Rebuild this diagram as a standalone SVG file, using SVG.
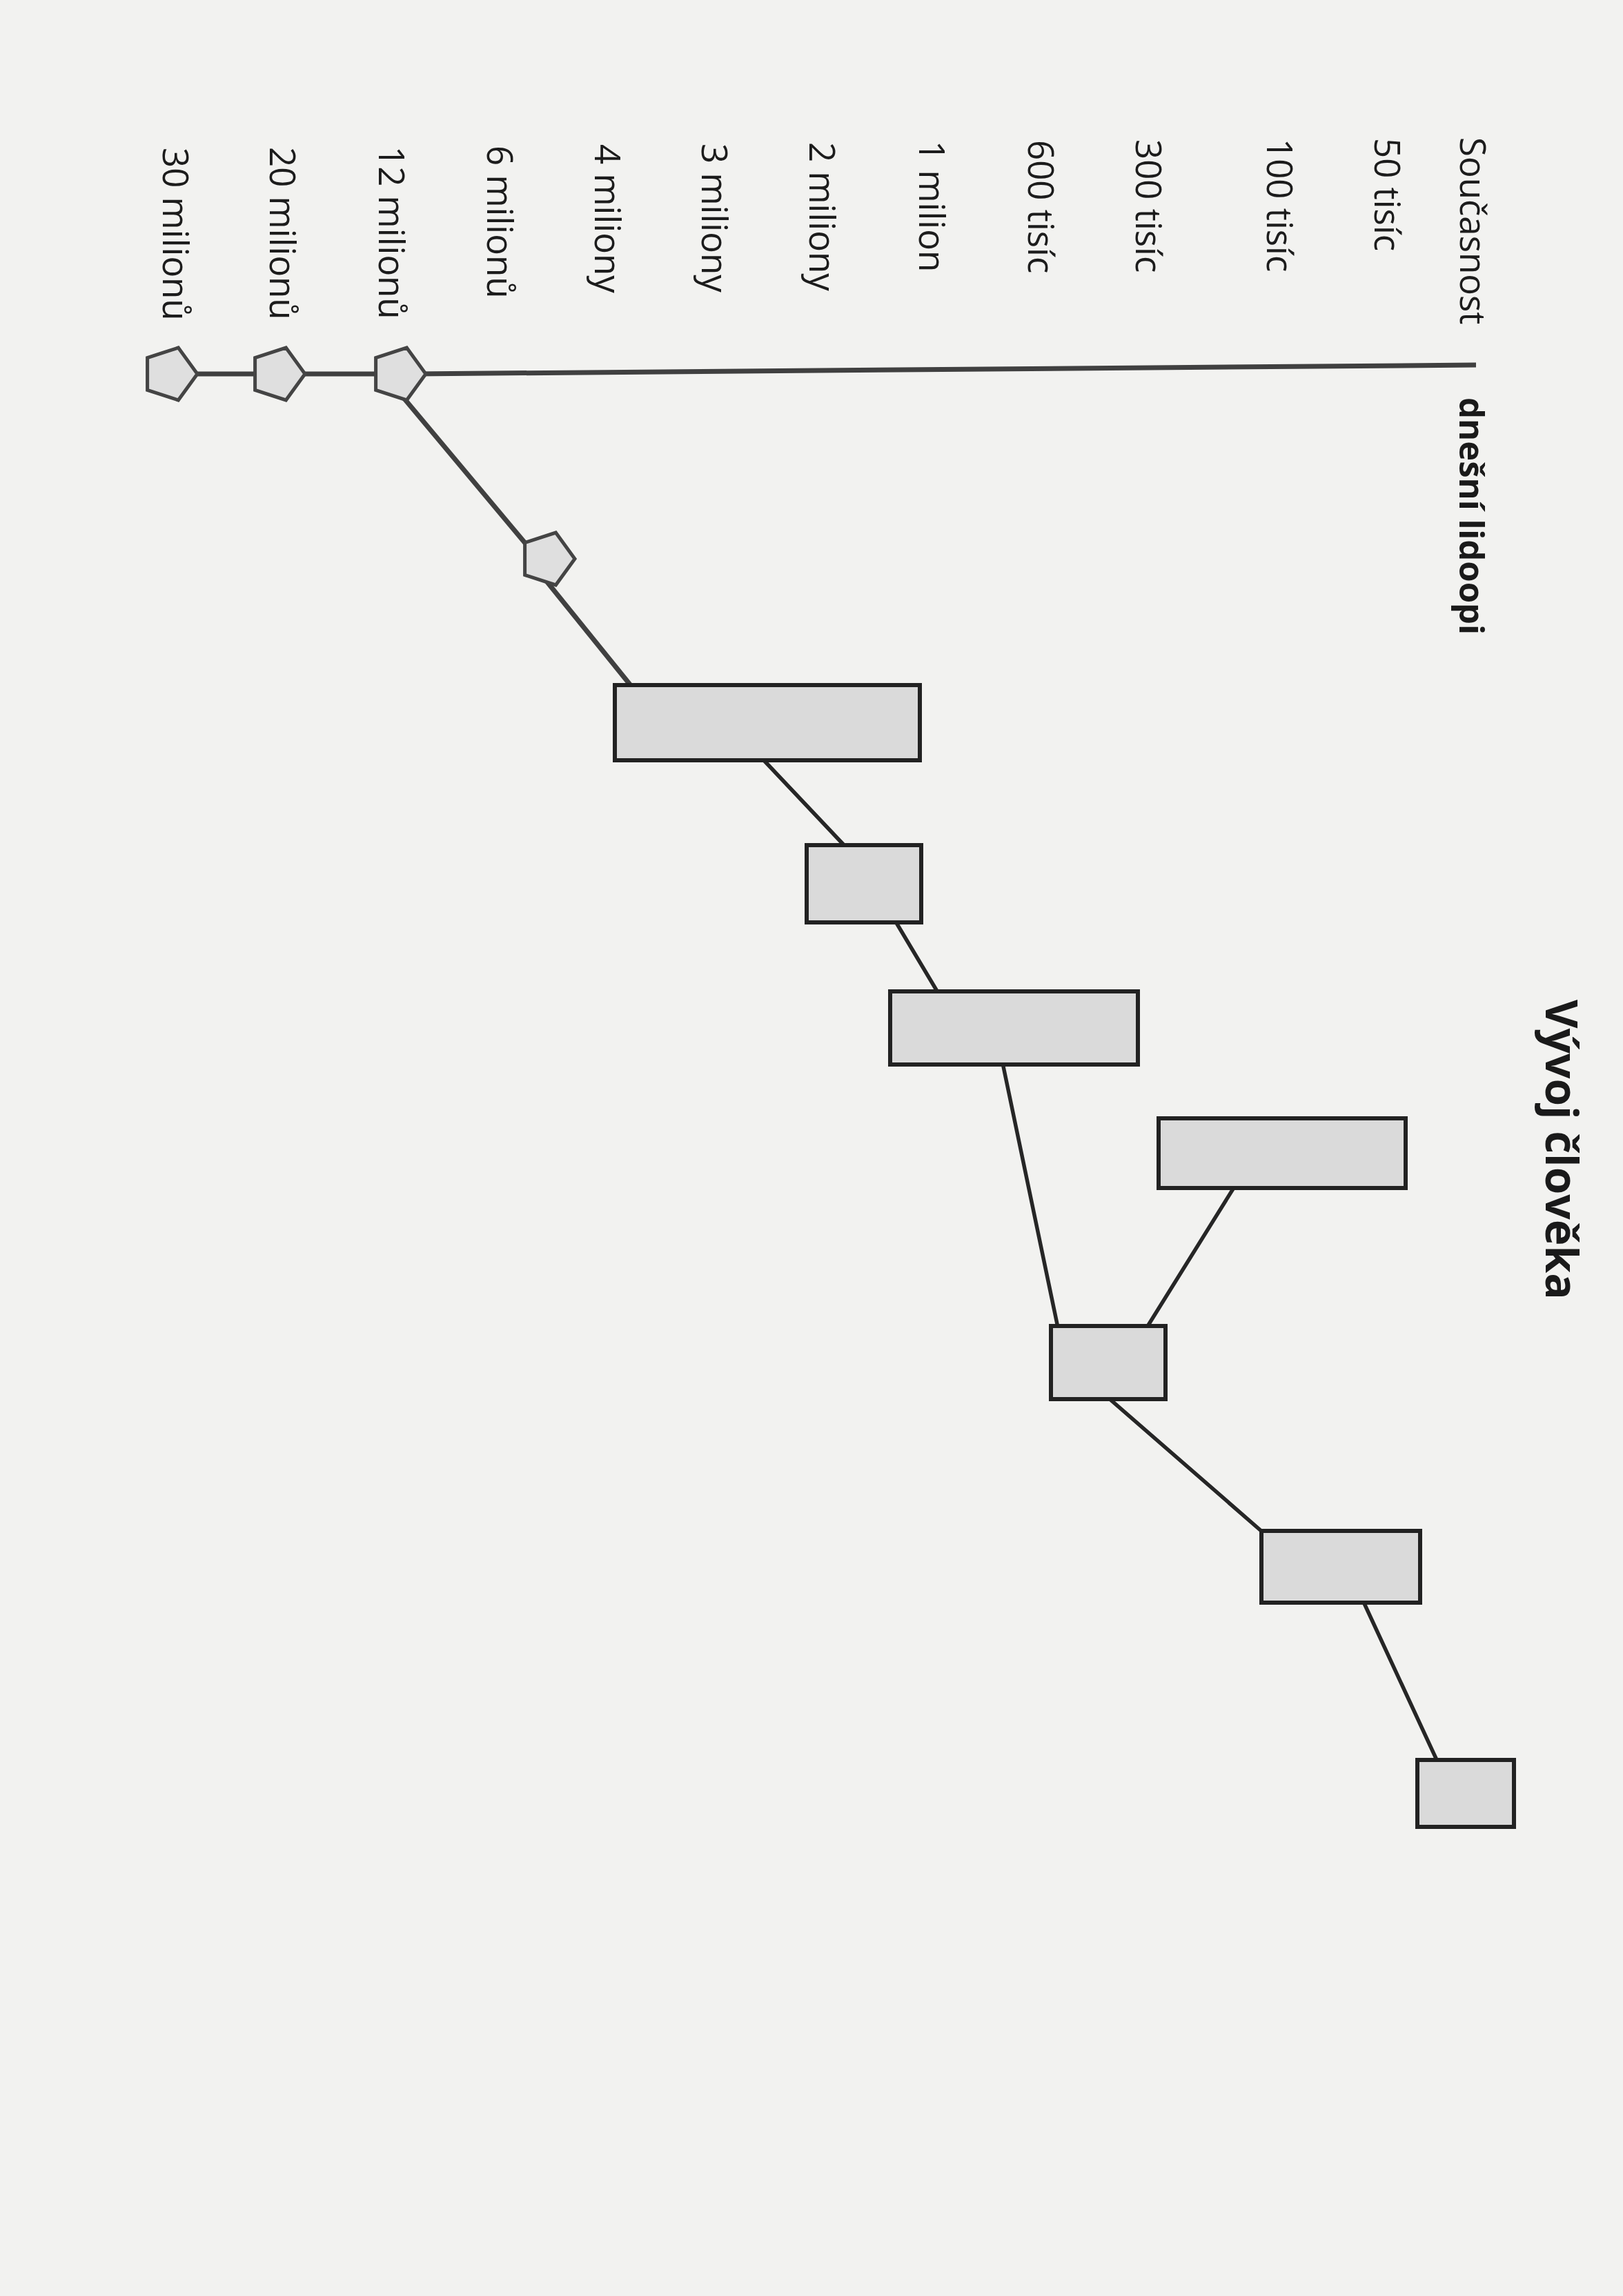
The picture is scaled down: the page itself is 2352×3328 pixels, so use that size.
<svg xmlns="http://www.w3.org/2000/svg" width="2352" height="3328" viewBox="0 0 2352 3328">
<style>
.lbl{font-family:"Open Sans","Liberation Sans",sans-serif;font-size:51px;fill:#1c1c1c}
.bold{font-family:"Open Sans","Liberation Sans",sans-serif;font-weight:700;fill:#1a1a1a}
.node{fill:#dadada;stroke:#222;stroke-width:6}
.pent{fill:#dfdfdf;stroke:#444;stroke-width:5}
.ln{stroke:#262626;stroke-width:5.5;fill:none;stroke-linecap:round}
.ln7{stroke:#404040;stroke-width:7;fill:none}
</style>
<defs>
<polygon id="pentShape" points="40,0 12.4,38 -32.4,23.5 -32.4,-23.5 12.4,-38"/>
</defs>
<rect x="0" y="0" width="2352" height="3328" fill="#f2f2f0"/>

<g id="title">
<text class="bold" font-size="64" transform="translate(2240,1449) rotate(90)">Vývoj člověka</text>
</g>

<g id="labels">
<text class="lbl" transform="translate(2116,199) rotate(90)">Současnost</text>
<text class="lbl" transform="translate(1992,200) rotate(90)">50 tisíc</text>
<text class="lbl" transform="translate(1836,201) rotate(90)">100 tisíc</text>
<text class="lbl" transform="translate(1646,202) rotate(90)">300 tisíc</text>
<text class="lbl" transform="translate(1490,203) rotate(90)">600 tisíc</text>
<text class="lbl" transform="translate(1332,204) rotate(90)">1 milion</text>
<text class="lbl" transform="translate(1173,206) rotate(90)">2 miliony</text>
<text class="lbl" transform="translate(1017,208) rotate(90)">3 miliony</text>
<text class="lbl" transform="translate(862,209) rotate(90)">4 miliony</text>
<text class="lbl" transform="translate(706,211) rotate(90)">6 milionů</text>
<text class="lbl" transform="translate(549,212) rotate(90)">12 milionů</text>
<text class="lbl" transform="translate(391,213) rotate(90)">20 milionů</text>
<text class="lbl" transform="translate(236,214) rotate(90)">30 milionů</text>
<text class="bold" font-size="49" transform="translate(2115,576) rotate(90)">dnešní lidoopi</text>
</g>

<g id="connectors">
<line class="ln7" x1="246" y1="542" x2="577" y2="542"/>
<line class="ln7" x1="600" y1="542" x2="2139" y2="529"/>
<line class="ln7" x1="586" y1="578" x2="765" y2="792"/>
<line class="ln7" x1="790" y1="840" x2="916" y2="996"/>
<line class="ln" x1="1105" y1="1100" x2="1225" y2="1227"/>
<line class="ln" x1="1298" y1="1336" x2="1360" y2="1440"/>
<line class="ln" x1="1453" y1="1541" x2="1533" y2="1924"/>
<line class="ln" x1="1789" y1="1720" x2="1662" y2="1924"/>
<line class="ln" x1="1606" y1="2026" x2="1830" y2="2221"/>
<line class="ln" x1="1976" y1="2322" x2="2083" y2="2553"/>
</g>

<g id="p-30m"><use href="#pentShape" class="pent" transform="translate(246,542)"/></g>
<g id="p-20m"><use href="#pentShape" class="pent" transform="translate(402,542)"/></g>
<g id="p-12m"><use href="#pentShape" class="pent" transform="translate(577,542)"/></g>
<g id="p-6m"><use href="#pentShape" class="pent" transform="translate(793,810)"/></g>

<g id="r1"><rect class="node" x="891" y="993" width="442" height="109"/></g>
<g id="r2"><rect class="node" x="1169" y="1225" width="166" height="112"/></g>
<g id="r3"><rect class="node" x="1290" y="1437" width="359" height="106"/></g>
<g id="r4"><rect class="node" x="1679" y="1621" width="358" height="101"/></g>
<g id="r5"><rect class="node" x="1523" y="1922" width="166" height="106"/></g>
<g id="r6"><rect class="node" x="1828" y="2219" width="230" height="104"/></g>
<g id="r7"><rect class="node" x="2054" y="2551" width="140" height="97"/></g>
</svg>
